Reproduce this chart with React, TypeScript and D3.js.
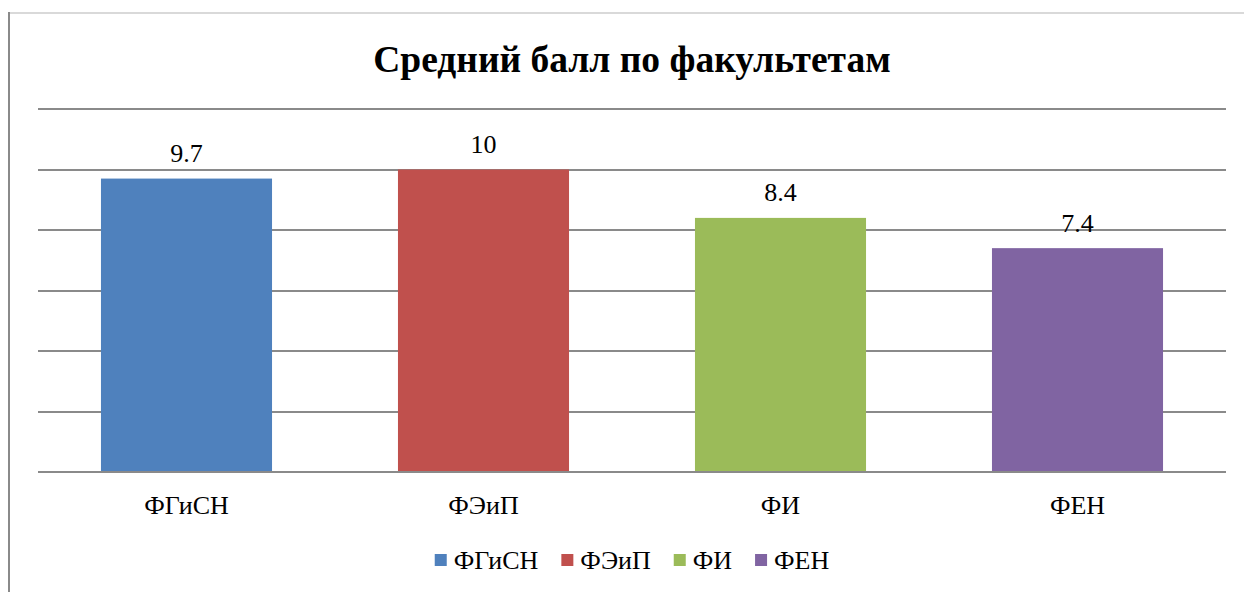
import * as d3 from "d3";

const faculties = ["ФГиСН", "ФЭиП", "ФИ", "ФЕН"];
const scores = [9.7, 10, 8.4, 7.4];
const colors = ["#4F81BD", "#C0504D", "#9BBB59", "#8064A2"];
const yTicks = [0, 2, 4, 6, 8, 10, 12];
const title = "Средний балл по факультетам";

const width = 1244;
const height = 592;
const margin = { top: 109, right: 18, bottom: 120, left: 38 };
const font = "Liberation Serif";

// text width for legend layout
const measure = (s: string, size: number) => {
  const canvas = document.createElement("canvas");
  const ctx = canvas.getContext("2d")!;
  ctx.font = `${size}px "${font}"`;
  return ctx.measureText(s).width;
};

export default function App() {
  const x = d3
    .scaleBand()
    .domain(faculties)
    .range([margin.left, width - margin.right])
    .paddingInner(0.424)
    .paddingOuter(0.212);

  const y = d3
    .scaleLinear()
    .domain([0, 12])
    .range([height - margin.bottom, margin.top]);

  const cx = (margin.left + width - margin.right) / 2;

  // legend layout
  const swatch = 12;
  const textGap = 7;
  const itemGap = 23;
  const widths = faculties.map((f) => swatch + textGap + measure(f, 26));
  const total = d3.sum(widths) + itemGap * (faculties.length - 1);
  let acc = cx - total / 2;
  const legendX = widths.map((w) => {
    const p = acc;
    acc += w + itemGap;
    return p;
  });

  return (
    <svg
      width={width}
      height={height}
      style={{ position: "absolute", left: 0, top: 0, background: "#fff" }}
    >
      {/* frame */}
      <line x1={9} x2={width} y1={13} y2={13} stroke="#d9d9d9" strokeWidth={2} />
      <line x1={9} x2={9} y1={12} y2={height} stroke="#8a8a8a" strokeWidth={2} />

      <text
        x={cx}
        y={72}
        textAnchor="middle"
        fontFamily={font}
        fontWeight="bold"
        fontSize={37.5}
      >
        {title}
      </text>

      {/* gridlines */}
      {yTicks.map((t) => (
        <line
          key={t}
          x1={margin.left}
          x2={width - margin.right}
          y1={Math.round(y(t))}
          y2={Math.round(y(t))}
          stroke="#8a8a8a"
          strokeWidth={2}
        />
      ))}

      {/* bars */}
      {scores.map((v, i) => (
        <rect
          key={faculties[i]}
          x={x(faculties[i])}
          y={y(v)}
          width={x.bandwidth()}
          height={y(0) - y(v) - 1}
          fill={colors[i]}
        />
      ))}

      {/* value labels */}
      {scores.map((v, i) => (
        <text
          key={"v" + i}
          x={x(faculties[i])! + x.bandwidth() / 2}
          y={y(v) - 16.5}
          textAnchor="middle"
          fontFamily={font}
          fontSize={26}
        >
          {String(v)}
        </text>
      ))}

      {/* category labels */}
      {faculties.map((f) => (
        <text
          key={"c" + f}
          x={x(f)! + x.bandwidth() / 2}
          y={y(0) + 42}
          textAnchor="middle"
          fontFamily={font}
          fontSize={26}
        >
          {f}
        </text>
      ))}

      {/* legend */}
      {faculties.map((f, i) => (
        <g key={"l" + f} transform={`translate(${legendX[i]},0)`}>
          <rect y={554} width={swatch} height={swatch} fill={colors[i]} />
          <text x={swatch + textGap} y={569} fontFamily={font} fontSize={26}>
            {f}
          </text>
        </g>
      ))}
    </svg>
  );
}
